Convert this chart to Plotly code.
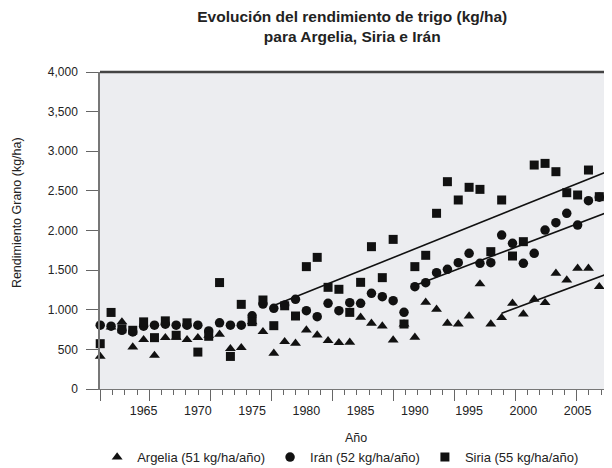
"""
Wheat yield evolution chart: Algeria, Syria and Iran
"""
import plotly.graph_objects as go

# ---- data (kg/ha) ----
years = list(range(1961, 2009))

argelia = [411, 780, 847, 530, 623, 424, 648, 650, 623, 648,
           678, 690, 508, 521, 847, 723, 450, 597, 576, 744,
           681, 610, 585, 589, 904, 829, 795, 618, 820, 652,
           1094, 1005, 829, 820, 921, 1325, 820, 900, 1081, 946,
           1131, 1089, 1459, 1375, 1523, 1523, 1291, 1291]

iran = [805, 792, 741, 720, 792, 805, 818, 805, 805, 805,
        733, 835, 805, 805, 924, 1072, 1018, 1060, 1131, 988,
        913, 1081, 988, 1089, 1081, 1207, 1165, 1115, 967, 1291,
        1342, 1468, 1510, 1594, 1712, 1586, 1594, 1943, 1838, 1586,
        1712, 2006, 2099, 2217, 2069, 2376, 2420, 2111]

siria = [572, 966, 760, 741, 847, 648, 860, 678, 835, 466,
         665, 1343, 411, 1068, 850, 1123, 799, 1050, 921, 1544,
         1661, 1283, 1258, 967, 1346, 1796, 1405, 1888, 820, 1544,
         1687, 2217, 2616, 2385, 2545, 2519, 1733, 2385, 1678, 1859,
         2826, 2847, 2742, 2477, 2448, 2763, 2427, 2427]

series_names = ['Argelia (51 kg/ha/año)', 'Irán (52 kg/ha/año)', 'Siria (55 kg/ha/año)']

# linear trends: first year, value at first year, slope (kg/ha/año)
trend_start = [1998, 1990, 1977]
trend_base = [957, 1307, 1053]
trend_slope = [51, 52, 55]
trend_end = 2008.3

x_tick_vals = [1965, 1970, 1975, 1980, 1985, 1990, 1995, 2000, 2005]
x_tick_text = ['1965', '1970', '1975', '1980', '1985', '1990', '1995', '2000', '2005']
y_tick_vals = [0, 500, 1000, 1500, 2000, 2500, 3000, 3500, 4000]
y_tick_text = ['0', '500', '1.000', '1.500', '2.000', '2.500', '3.000', '3,500', '4,000']
# tick marks of the original frame (drawn on their own scale)
frame_major_ticks = [1961, 1965, 1970, 1975, 1980, 1985, 1990, 1995, 2000]

FONT = 'Liberation Sans, Arial, sans-serif'
INK = '#222222'

symbols = ['triangle-up', 'circle', 'square']
sizes = [9.5, 9.5, 9]

fig = go.Figure()

for name, values, symbol, size in zip(series_names, [argelia, iran, siria], symbols, sizes):
    fig.add_trace(go.Scatter(
        x=years,
        y=values,
        mode='markers',
        name=name,
        cliponaxis=False,
        marker=dict(symbol=symbol, size=size, color='#111111', line=dict(width=0))
    ))

for start, base, slope in zip(trend_start, trend_base, trend_slope):
    fig.add_trace(go.Scatter(
        x=[start, trend_end],
        y=[base, base + slope * (trend_end - start)],
        mode='lines',
        line=dict(color='#111111', width=1.6),
        showlegend=False,
        hoverinfo='skip'
    ))

# empty trace so the tick-mark axis gets drawn
fig.add_trace(go.Scatter(x=[], y=[], xaxis='x2', showlegend=False))

# the page body keeps its 8px margin, so the figure is 8px smaller than the window
fig.update_layout(
    width=604,
    height=460,
    paper_bgcolor='#ffffff',
    plot_bgcolor='#ECEDF0',
    font=dict(family=FONT, color=INK, size=12),
    title=dict(
        text='<b>Evolución del rendimiento de trigo (kg/ha)<br>para Argelia, Siria e Irán</b>',
        x=0.57, xanchor='center',
        y=0.97, yanchor='top',
        font=dict(size=15.5, color=INK)
    ),
    # fixed margins: the legend must not push the frame around
    margin=dict(l=92, r=0, t=64, b=79, autoexpand=False),
    showlegend=True,
    legend=dict(
        orientation='h',
        x=0.47, xanchor='center',
        y=-0.215, yanchor='middle',
        font=dict(size=13, color=INK),
        itemwidth=30,
        bgcolor='rgba(0,0,0,0)'
    ),
    xaxis=dict(
        range=[1960.98, 2008.17],
        tickvals=x_tick_vals,
        ticktext=x_tick_text,
        ticks='outside',
        ticklen=10,
        tickcolor='rgba(0,0,0,0)',
        tickfont=dict(size=12.5, color=INK),
        showline=True,
        linecolor='#777777',
        linewidth=1.2,
        showgrid=False,
        zeroline=False,
        title=dict(text='Año', font=dict(size=12.5, color=INK), standoff=16)
    ),
    xaxis2=dict(
        overlaying='x',
        anchor='y',
        side='bottom',
        range=[1960.96, 2002.9],
        tickmode='array',
        tickvals=frame_major_ticks,
        showticklabels=False,
        ticks='outside',
        ticklen=11,
        tickwidth=1.2,
        tickcolor='#666666',
        minor=dict(ticks='outside', tick0=1961, dtick=1, ticklen=5, tickwidth=1, tickcolor='#666666'),
        showgrid=False,
        zeroline=False,
        showline=False
    ),
    yaxis=dict(
        range=[0, 4000],
        tickvals=y_tick_vals,
        ticktext=y_tick_text,
        ticks='outside',
        ticklen=12,
        tickwidth=1.2,
        tickcolor='#666666',
        tickfont=dict(size=12, color=INK),
        ticklabelstandoff=6,
        showline=True,
        linecolor='#777777',
        linewidth=1.5,
        showgrid=False,
        zeroline=False
    ),
    annotations=[dict(
        text='Rendimiento Grano (kg/ha)',
        xref='paper', yref='paper',
        x=-0.162, y=0.555,
        xanchor='center', yanchor='middle',
        textangle=-90,
        showarrow=False,
        font=dict(size=12.5, color=INK)
    )],
    shapes=[dict(
        type='line', xref='paper', yref='paper',
        x0=0, x1=1, y0=1, y1=1,
        line=dict(color='#444444', width=2.5)
    )]
)

fig.write_html("out.html")
